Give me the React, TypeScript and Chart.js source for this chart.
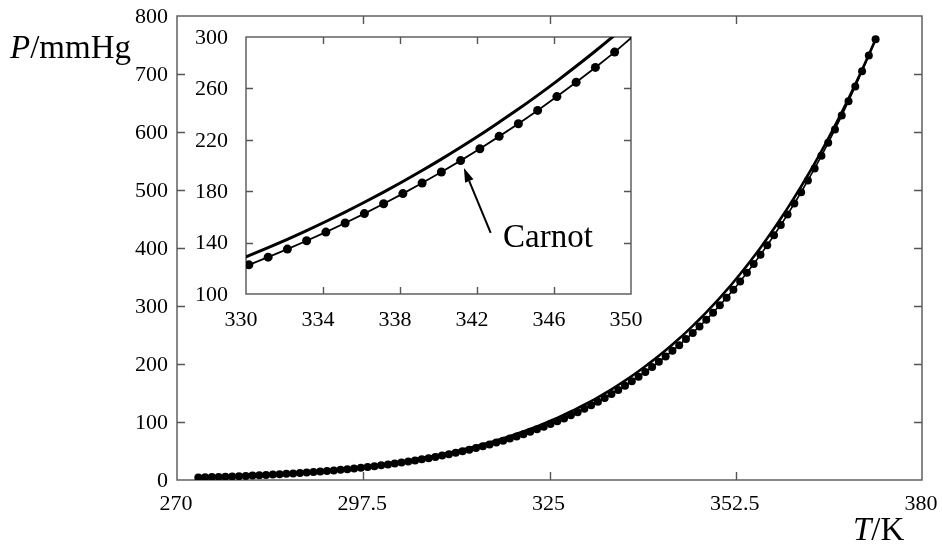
import React, { useEffect, useRef } from 'react';
import { Chart, registerables } from 'chart.js';

Chart.register(...registerables);

const FONT = '"Liberation Serif", "Times New Roman", Times, serif';

// Temperature (K) of each data point
const temperatureK = [
  273.15, 274.15, 275.15, 276.15, 277.15, 278.15, 279.15, 280.15, 281.15, 282.15,
  283.15, 284.15, 285.15, 286.15, 287.15, 288.15, 289.15, 290.15, 291.15, 292.15,
  293.15, 294.15, 295.15, 296.15, 297.15, 298.15, 299.15, 300.15, 301.15, 302.15,
  303.15, 304.15, 305.15, 306.15, 307.15, 308.15, 309.15, 310.15, 311.15, 312.15,
  313.15, 314.15, 315.15, 316.15, 317.15, 318.15, 319.15, 320.15, 321.15, 322.15,
  323.15, 324.15, 325.15, 326.15, 327.15, 328.15, 329.15, 330.15, 331.15, 332.15,
  333.15, 334.15, 335.15, 336.15, 337.15, 338.15, 339.15, 340.15, 341.15, 342.15,
  343.15, 344.15, 345.15, 346.15, 347.15, 348.15, 349.15, 350.15, 351.15, 352.15,
  353.15, 354.15, 355.15, 356.15, 357.15, 358.15, 359.15, 360.15, 361.15, 362.15,
  363.15, 364.15, 365.15, 366.15, 367.15, 368.15, 369.15, 370.15, 371.15, 372.15,
  373.15,
];

// Solid curve (P / mmHg)
const pressureCurve = [
  4.58, 4.93, 5.29, 5.69, 6.10, 6.54, 7.01, 7.51, 8.05, 8.61,
  9.21, 9.84, 10.52, 11.23, 11.99, 12.79, 13.63, 14.53, 15.48, 16.48,
  17.54, 18.65, 19.83, 21.07, 22.38, 23.76, 25.21, 26.74, 28.35, 30.04,
  31.82, 33.70, 35.66, 37.73, 39.90, 42.18, 44.56, 47.07, 49.69, 52.44,
  55.32, 58.34, 61.50, 64.80, 68.26, 71.88, 75.65, 79.60, 83.71, 88.02,
  92.51, 97.20, 102.09, 107.20, 112.51, 118.04, 123.80, 129.82, 136.08, 142.60,
  149.38, 156.43, 163.77, 171.38, 179.31, 187.54, 196.09, 204.96, 214.17, 223.73,
  233.7, 243.9, 254.6, 265.7, 277.2, 289.1, 301.4, 314.1, 327.3, 341.0,
  355.1, 369.7, 384.9, 400.6, 416.8, 433.6, 450.9, 468.7, 487.1, 506.1,
  525.8, 546.0, 567.0, 588.6, 610.9, 633.9, 657.6, 682.1, 707.3, 733.2,
  760.0,
];

// Carnot (dotted series, P / mmHg)
const pressureCarnot = [
  4.32, 4.65, 4.99, 5.37, 5.76, 6.17, 6.62, 7.09, 7.60, 8.13,
  8.69, 9.29, 9.93, 10.60, 11.32, 12.07, 12.87, 13.72, 14.61, 15.56,
  16.56, 17.61, 18.72, 19.89, 21.13, 22.43, 23.80, 25.24, 26.76, 28.36,
  30.04, 31.81, 33.66, 35.62, 37.67, 39.82, 42.06, 44.43, 46.91, 49.50,
  52.22, 55.07, 58.06, 61.17, 64.44, 67.86, 71.41, 75.14, 79.02, 83.09,
  87.33, 91.76, 96.37, 101.20, 106.21, 111.43, 116.87, 122.68, 128.68, 134.93,
  141.43, 148.20, 155.25, 162.57, 170.20, 178.13, 186.37, 194.92, 203.80, 213.04,
  222.67, 232.53, 242.89, 253.64, 264.78, 276.32, 288.26, 301.16, 314.40, 328.18,
  342.39, 357.13, 372.51, 388.42, 404.88, 421.98, 439.63, 457.83, 476.68, 496.18,
  516.44, 537.26, 558.95, 581.30, 604.42, 628.32, 653.00, 678.55, 704.90, 732.03,
  760.0,
];

const mainXTicks = [270, 297.5, 325, 352.5, 380];
const mainYTicks = [0, 100, 200, 300, 400, 500, 600, 700, 800];
const insetXTicks = [330, 334, 338, 342, 346, 350];
const insetYTicks = [100, 140, 180, 220, 260, 300];

const annotationLabel = 'Carnot';

const toPoints = (ys: number[]) => temperatureK.map((t, i) => ({ x: t, y: ys[i] }));

type FrameOpts = {
  xTicks: number[];
  yTicks: number[];
  tickLen: number;
  xLabelDx: number;
  xLabelDy: number;
  yLabelGap: number;
  extra?: (chart: any, ctx: CanvasRenderingContext2D) => void;
};

function makeFramePlugin(id: string, o: FrameOpts) {
  return {
    id,
    beforeDatasetsDraw(chart: any) {
      const ctx: CanvasRenderingContext2D = chart.ctx;
      const a = chart.chartArea;
      const xs = chart.scales.x;
      const ys = chart.scales.y;
      ctx.save();
      ctx.strokeStyle = '#555555';
      ctx.lineWidth = 1.4;
      ctx.strokeRect(a.left, a.top, a.right - a.left, a.bottom - a.top);
      ctx.beginPath();
      o.xTicks.forEach((v, i) => {
        if (i === 0 || i === o.xTicks.length - 1) return;
        const px = Math.round(xs.getPixelForValue(v)) + 0.5;
        ctx.moveTo(px, a.bottom);
        ctx.lineTo(px, a.bottom - o.tickLen);
        ctx.moveTo(px, a.top);
        ctx.lineTo(px, a.top + o.tickLen);
      });
      o.yTicks.forEach((v, i) => {
        if (i === 0 || i === o.yTicks.length - 1) return;
        const py = Math.round(ys.getPixelForValue(v)) + 0.5;
        ctx.moveTo(a.left, py);
        ctx.lineTo(a.left + o.tickLen, py);
        ctx.moveTo(a.right, py);
        ctx.lineTo(a.right - o.tickLen, py);
      });
      ctx.stroke();
      ctx.restore();
    },
    afterDraw(chart: any) {
      const ctx: CanvasRenderingContext2D = chart.ctx;
      const a = chart.chartArea;
      const xs = chart.scales.x;
      const ys = chart.scales.y;
      ctx.save();
      ctx.fillStyle = '#000';
      ctx.font = `22px ${FONT}`;
      ctx.textAlign = 'center';
      ctx.textBaseline = 'middle';
      o.xTicks.forEach((v) => {
        ctx.fillText(String(v), xs.getPixelForValue(v) + o.xLabelDx, a.bottom + o.xLabelDy);
      });
      ctx.textAlign = 'right';
      o.yTicks.forEach((v) => {
        ctx.fillText(String(v), a.left - o.yLabelGap, ys.getPixelForValue(v) + 1);
      });
      ctx.restore();
      if (o.extra) {
        ctx.save();
        o.extra(chart, ctx);
        ctx.restore();
      }
    },
  };
}

function drawTitle(ctx: CanvasRenderingContext2D, italic: string, rest: string, x: number, y: number) {
  ctx.fillStyle = '#000';
  ctx.textAlign = 'left';
  ctx.textBaseline = 'alphabetic';
  ctx.font = `italic 33px ${FONT}`;
  ctx.fillText(italic, x, y);
  const w = ctx.measureText(italic).width;
  ctx.font = `33px ${FONT}`;
  ctx.fillText(rest, x + w, y);
}

export default function App() {
  const mainRef = useRef<HTMLCanvasElement>(null);
  const insetRef = useRef<HTMLCanvasElement>(null);

  useEffect(() => {
    if (!mainRef.current || !insetRef.current) return;

    const mainPlugin = makeFramePlugin('mainFrame', {
      xTicks: mainXTicks,
      yTicks: mainYTicks,
      tickLen: 8,
      xLabelDx: -1,
      xLabelDy: 24,
      yLabelGap: 9,
      extra: (chart, ctx) => {
        drawTitle(ctx, 'P', '/mmHg', 10, 58);
        drawTitle(ctx, 'T', '/K', 853, 540);
      },
    });

    const insetPlugin = makeFramePlugin('insetFrame', {
      xTicks: insetXTicks,
      yTicks: insetYTicks,
      tickLen: 7,
      xLabelDx: -5,
      xLabelDy: 26,
      yLabelGap: 18,
      extra: (chart, ctx) => {
        const xs = chart.scales.x;
        const ys = chart.scales.y;
        const hx = xs.getPixelForValue(341.32);
        const hy = ys.getPixelForValue(198);
        const tx = xs.getPixelForValue(342.71);
        const ty = ys.getPixelForValue(147.5);
        const ang = Math.atan2(hy - ty, hx - tx);
        const headLen = 14;
        const headW = 4.5;
        const bx = hx - headLen * Math.cos(ang);
        const by = hy - headLen * Math.sin(ang);
        ctx.strokeStyle = '#000';
        ctx.lineWidth = 2;
        ctx.beginPath();
        ctx.moveTo(tx, ty);
        ctx.lineTo(bx, by);
        ctx.stroke();
        ctx.fillStyle = '#000';
        ctx.beginPath();
        ctx.moveTo(hx, hy);
        ctx.lineTo(bx + headW * Math.sin(ang), by - headW * Math.cos(ang));
        ctx.lineTo(bx - headW * Math.sin(ang), by + headW * Math.cos(ang));
        ctx.closePath();
        ctx.fill();
        ctx.font = `33px ${FONT}`;
        ctx.textAlign = 'left';
        ctx.textBaseline = 'alphabetic';
        ctx.fillText(annotationLabel, xs.getPixelForValue(343.35), ys.getPixelForValue(136.6));
      },
    });

    const common = (min: [number, number], max: [number, number]) => ({
      responsive: false,
      animation: false as const,
      events: [] as any[],
      plugins: { legend: { display: false }, tooltip: { enabled: false } },
      scales: {
        x: { type: 'linear' as const, min: min[0], max: max[0], display: false },
        y: { type: 'linear' as const, min: min[1], max: max[1], display: false },
      },
    });

    const mainChart = new Chart(mainRef.current, {
      type: 'line',
      data: {
        datasets: [
          {
            label: annotationLabel,
            data: toPoints(pressureCarnot),
            borderColor: '#000',
            borderWidth: 1.6,
            pointRadius: 4,
            pointBackgroundColor: '#000',
            pointBorderWidth: 0,
            fill: false,
          },
          {
            label: 'P',
            data: toPoints(pressureCurve),
            borderColor: '#000',
            borderWidth: 2.6,
            pointRadius: 0,
            cubicInterpolationMode: 'monotone',
            fill: false,
          },
        ],
      },
      options: {
        ...common([270, 0], [380, 800]),
        layout: { padding: { left: 177, top: 16, right: 20, bottom: 66 } },
      },
      plugins: [mainPlugin],
    } as any);

    const insetChart = new Chart(insetRef.current, {
      type: 'line',
      data: {
        datasets: [
          {
            label: annotationLabel,
            data: toPoints(pressureCarnot),
            borderColor: '#000',
            borderWidth: 1.8,
            pointRadius: 4.5,
            pointBackgroundColor: '#000',
            pointBorderWidth: 0,
            fill: false,
            clip: 0,
          },
          {
            label: 'P',
            data: toPoints(pressureCurve),
            borderColor: '#000',
            borderWidth: 3,
            pointRadius: 0,
            cubicInterpolationMode: 'monotone',
            fill: false,
            clip: 0,
          },
        ],
      },
      options: {
        ...common([330, 100], [350, 300]),
        layout: { padding: { left: 66, top: 17, right: 19, bottom: 46 } },
      },
      plugins: [insetPlugin],
    } as any);

    return () => {
      mainChart.destroy();
      insetChart.destroy();
    };
  }, []);

  return (
    <div style={{ position: 'fixed', left: 0, top: 0, width: 942, height: 546, background: '#fff', overflow: 'hidden' }}>
      <canvas ref={mainRef} width={942} height={546} style={{ position: 'absolute', left: 0, top: 0, width: 942, height: 546 }} />
      <canvas ref={insetRef} width={470} height={320} style={{ position: 'absolute', left: 180, top: 20, width: 470, height: 320 }} />
    </div>
  );
}
